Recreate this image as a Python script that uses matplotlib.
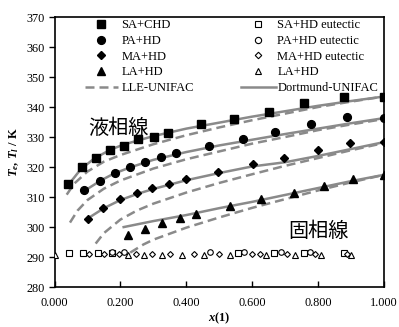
'''
Solid-liquid equilibrium of fatty acid + hydrocarbon systems
liquidus data, eutectic data and UNIFAC model curves
'''
import matplotlib
matplotlib.use('Agg')
import matplotlib.pyplot as plt
from matplotlib.lines import Line2D

plt.rcParams['font.family'] = ['Liberation Serif', 'DejaVu Serif']
plt.rcParams['mathtext.fontset'] = 'custom'
plt.rcParams['mathtext.it'] = 'Liberation Serif:bold:italic'
plt.rcParams['mathtext.rm'] = 'Liberation Serif:bold'

# liquidus points (filled markers)
sa_x = [0.041, 0.083, 0.125, 0.170, 0.210, 0.255, 0.303, 0.345, 0.445, 0.545, 0.650, 0.759, 0.879, 1.000]
sa_T = [314.4, 320.0, 323.0, 325.7, 327.0, 329.3, 330.0, 331.3, 334.3, 335.9, 338.2, 341.2, 343.4, 343.5]
pa_x = [0.090, 0.137, 0.184, 0.228, 0.276, 0.323, 0.370, 0.469, 0.572, 0.671, 0.780, 0.888, 1.000]
pa_T = [312.4, 315.4, 318.1, 319.9, 321.7, 323.3, 324.7, 327.0, 329.3, 331.6, 334.3, 336.6, 336.3]
ma_x = [0.101, 0.146, 0.200, 0.249, 0.297, 0.348, 0.400, 0.496, 0.602, 0.698, 0.800, 0.897, 1.000]
ma_T = [302.8, 306.5, 309.5, 311.2, 313.0, 314.4, 316.1, 318.4, 321.0, 323.0, 325.7, 328.0, 328.3]
la_x = [0.222, 0.276, 0.327, 0.380, 0.430, 0.533, 0.627, 0.728, 0.819, 0.906, 1.000]
la_T = [297.3, 299.5, 301.5, 303.0, 304.5, 306.9, 309.2, 311.4, 313.8, 316.1, 317.4]

# eutectic points (open markers)
sa_e_x = [0.043, 0.086, 0.131, 0.176, 0.557, 0.667, 0.758, 0.878]
sa_e_T = [291.2, 291.2, 291.2, 291.2, 291.2, 291.2, 291.2, 291.2]
pa_e_x = [0.176, 0.210, 0.473, 0.574, 0.687, 0.776]
pa_e_T = [291.8, 291.8, 291.8, 291.8, 291.8, 291.8]
ma_e_x = [0.106, 0.149, 0.195, 0.246, 0.297, 0.350, 0.423, 0.499, 0.600, 0.625, 0.705, 0.790, 0.888]
ma_e_T = [291.0, 291.0, 291.0, 291.0, 291.0, 291.0, 291.0, 291.0, 291.0, 291.0, 291.0, 291.0, 291.0]
la_e_x = [0.000, 0.224, 0.272, 0.327, 0.387, 0.453, 0.534, 0.643, 0.730, 0.810, 0.900]
la_e_T = [290.6, 290.6, 290.6, 290.6, 290.6, 290.6, 290.6, 290.6, 290.6, 290.6, 290.6]

# LLE-UNIFAC curves (dashed)
lle_sa_x = [0.037, 0.06, 0.10, 0.15, 0.20, 0.30, 0.40, 0.50, 0.60, 0.70, 0.80, 0.90, 1.00]
lle_sa_T = [310.8, 314.5, 318.5, 321.8, 324.0, 327.6, 330.6, 333.2, 335.6, 337.8, 340.0, 341.8, 343.5]
lle_pa_x = [0.047, 0.07, 0.10, 0.15, 0.20, 0.30, 0.40, 0.50, 0.60, 0.70, 0.80, 0.90, 1.00]
lle_pa_T = [301.5, 305.5, 309.0, 312.8, 315.5, 319.5, 322.6, 325.2, 327.8, 330.0, 332.3, 334.2, 336.0]
lle_ma_x = [0.125, 0.15, 0.20, 0.25, 0.30, 0.40, 0.50, 0.60, 0.70, 0.80, 0.90, 1.00]
lle_ma_T = [294.5, 298.0, 302.5, 305.5, 307.8, 311.5, 314.7, 317.6, 320.4, 323.0, 325.6, 328.0]
lle_la_x = [0.23, 0.27, 0.30, 0.35, 0.40, 0.50, 0.60, 0.70, 0.80, 0.90, 1.00]
lle_la_T = [291.5, 294.2, 295.8, 297.8, 299.8, 303.2, 306.4, 309.3, 312.2, 314.9, 317.4]

# Dortmund-UNIFAC curves (solid)
dm_sa_x = [0.04, 0.08, 0.12, 0.17, 0.21, 0.30, 0.40, 0.50, 0.60, 0.70, 0.80, 0.90, 1.00]
dm_sa_T = [313.8, 319.3, 322.8, 325.8, 327.5, 330.3, 332.8, 334.8, 336.8, 338.6, 340.4, 342.0, 343.5]
dm_pa_x = [0.09, 0.14, 0.18, 0.23, 0.30, 0.40, 0.50, 0.60, 0.70, 0.80, 0.90, 1.00]
dm_pa_T = [312.0, 315.5, 317.8, 319.9, 322.4, 325.0, 327.2, 329.1, 331.0, 332.8, 334.6, 336.3]
dm_ma_x = [0.10, 0.15, 0.20, 0.25, 0.30, 0.40, 0.50, 0.60, 0.70, 0.80, 0.90, 1.00]
dm_ma_T = [302.8, 306.3, 309.0, 311.0, 312.7, 315.6, 318.0, 320.2, 321.6, 323.7, 326.0, 328.3]
dm_la_x = [0.21, 0.30, 0.35, 0.40, 0.50, 0.60, 0.70, 0.80, 0.90, 1.00]
dm_la_T = [300.0, 302.0, 303.0, 304.0, 306.3, 308.4, 310.7, 313.0, 315.3, 317.4]

x_ticks = [0.0, 0.2, 0.4, 0.6, 0.8, 1.0]
y_ticks = [280, 290, 300, 310, 320, 330, 340, 350, 360, 370]

gray = '#8a8a8a'
dash = (0, (3.6, 2.0))

fig, ax = plt.subplots(figsize=(3.99, 3.27), dpi=100)
fig.subplots_adjust(left=0.1366, right=0.962, top=0.948, bottom=0.122)

# model curves
for cx, cy in [(lle_sa_x, lle_sa_T), (lle_pa_x, lle_pa_T), (lle_ma_x, lle_ma_T), (lle_la_x, lle_la_T)]:
    ax.plot(cx, cy, color=gray, lw=1.8, linestyle=dash, zorder=1)
for cx, cy in [(dm_sa_x, dm_sa_T), (dm_pa_x, dm_pa_T), (dm_ma_x, dm_ma_T), (dm_la_x, dm_la_T)]:
    ax.plot(cx, cy, color=gray, lw=1.8, zorder=1)

# liquidus data
ax.plot(sa_x, sa_T, 's', color='black', ms=5.4, zorder=3)
ax.plot(pa_x, pa_T, 'o', color='black', ms=5.6, zorder=3)
ax.plot(ma_x, ma_T, 'D', color='black', ms=4.0, zorder=3)
ax.plot(la_x, la_T, '^', color='black', ms=5.8, zorder=3)

# eutectic data
ax.plot(sa_e_x, sa_e_T, 's', mfc='white', mec='black', mew=0.8, ms=4.0, zorder=3)
ax.plot(pa_e_x, pa_e_T, 'o', mfc='white', mec='black', mew=0.8, ms=4.0, zorder=3)
ax.plot(ma_e_x, ma_e_T, 'D', mfc='white', mec='black', mew=0.8, ms=3.0, zorder=3)
ax.plot(la_e_x, la_e_T, '^', mfc='white', mec='black', mew=0.8, ms=4.4, zorder=3)

# region labels
ax.text(0.195, 332.9, '液相線', family=['Noto Sans CJK JP', 'DejaVu Sans'],
        fontsize=14.5, ha='center', va='center', zorder=4)
ax.text(0.80, 298.5, '固相線', family=['Noto Sans CJK JP', 'DejaVu Sans'],
        fontsize=14.5, ha='center', va='center', zorder=4)

# axes styling
ax.set_xlim(0, 1)
ax.set_ylim(280, 370)
ax.set_xticks(x_ticks)
ax.set_xticklabels(['%.3f' % v for v in x_ticks])
ax.set_yticks(y_ticks)
ax.set_yticklabels([str(v) for v in y_ticks])
ax.tick_params(axis='x', direction='in', length=4, width=1, labelsize=8.8, pad=7)
ax.tick_params(axis='y', direction='out', length=4, width=1, labelsize=8.8, pad=3)
for s in ax.spines.values():
    s.set_linewidth(1.2)

ax.set_xlabel(r'$x$(1)', fontsize=9, fontweight='bold', labelpad=1)
ax.set_ylabel(r'$T_e$, $T_l$ / K', fontsize=9, fontweight='bold', labelpad=4)

# legends
h1 = [Line2D([], [], marker='s', color='black', ls='none', ms=5.4),
      Line2D([], [], marker='o', color='black', ls='none', ms=5.6),
      Line2D([], [], marker='D', color='black', ls='none', ms=4.0),
      Line2D([], [], marker='^', color='black', ls='none', ms=5.8),
      Line2D([], [], color=gray, lw=1.8, linestyle=dash)]
l1 = ['SA+CHD', 'PA+HD', 'MA+HD', 'LA+HD', 'LLE-UNIFAC']
h2 = [Line2D([], [], marker='s', mfc='white', mec='black', mew=0.8, ls='none', ms=4.5),
      Line2D([], [], marker='o', mfc='white', mec='black', mew=0.8, ls='none', ms=4.5),
      Line2D([], [], marker='D', mfc='white', mec='black', mew=0.8, ls='none', ms=3.3),
      Line2D([], [], marker='^', mfc='white', mec='black', mew=0.8, ls='none', ms=4.8),
      Line2D([], [], color=gray, lw=1.8)]
l2 = ['SA+HD eutectic', 'PA+HD eutectic', 'MA+HD eutectic', 'LA+HD', 'Dortmund-UNIFAC']

leg1 = ax.legend(h1, l1, loc='upper left', bbox_to_anchor=(0.092, 0.992), frameon=False,
                 fontsize=9, borderpad=0, borderaxespad=0, handlelength=2.64,
                 handletextpad=0.3, labelspacing=0.3)
ax.add_artist(leg1)
ax.legend(h2, l2, loc='upper left', bbox_to_anchor=(0.566, 0.992), frameon=False,
          fontsize=9, borderpad=0, borderaxespad=0, handlelength=2.8,
          handletextpad=0.12, labelspacing=0.3)

fig.savefig('out.png', dpi=100)
